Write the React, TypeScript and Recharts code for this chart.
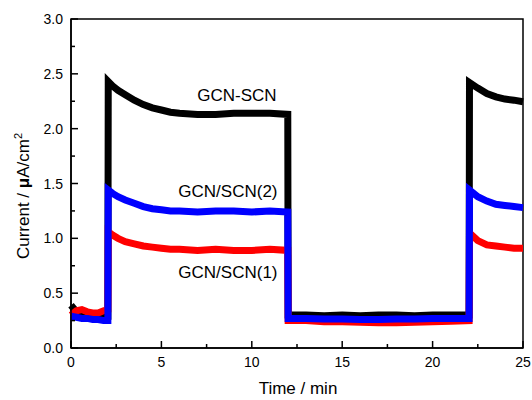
import React from 'react';
import { LineChart, Line, XAxis, YAxis, ReferenceArea, ReferenceDot } from 'recharts';

// time in minutes (shared by all three curves)
const times = [
  0, 0.3, 0.6, 0.9, 1.2, 1.5, 1.8, 2.04,
  2.06, 2.3, 2.6, 3, 3.5, 4, 4.5, 5, 5.5, 6,
  7, 8, 9, 10, 11, 11.99,
  12.01, 12.5, 13, 14, 15, 16, 17, 18, 19, 20, 21, 22.02,
  22.04, 22.5, 23, 23.5, 24, 24.5, 25,
];

const gcnScn = [
  0.39, 0.33, 0.3, 0.3, 0.29, 0.29, 0.29, 0.29,
  2.43, 2.39, 2.35, 2.31, 2.26, 2.22, 2.19, 2.17, 2.15, 2.14,
  2.13, 2.13, 2.14, 2.14, 2.14, 2.13,
  0.3, 0.3, 0.3, 0.295, 0.3, 0.295, 0.3, 0.3, 0.295, 0.3, 0.3, 0.3,
  2.42, 2.37, 2.32, 2.29, 2.27, 2.26, 2.245,
];

const gcnScn2 = [
  0.29, 0.28, 0.27, 0.27, 0.26, 0.26, 0.25, 0.25,
  1.44, 1.41, 1.38, 1.35, 1.32, 1.29, 1.27, 1.26, 1.25, 1.25,
  1.24, 1.25, 1.25, 1.24, 1.25, 1.24,
  0.27, 0.27, 0.27, 0.265, 0.265, 0.26, 0.26, 0.265, 0.265, 0.27, 0.27, 0.27,
  1.44, 1.38, 1.34, 1.31, 1.3, 1.29, 1.28,
];

const gcnScn1 = [
  0.3, 0.34, 0.35, 0.33, 0.32, 0.32, 0.34, 0.35,
  1.06, 1.03, 1.0, 0.97, 0.95, 0.93, 0.92, 0.91, 0.9, 0.9,
  0.89, 0.9, 0.89, 0.89, 0.9, 0.89,
  0.25, 0.25, 0.25, 0.24, 0.24, 0.235, 0.23, 0.23, 0.235, 0.24, 0.245, 0.25,
  1.05, 0.98, 0.94, 0.93, 0.92, 0.91, 0.91,
];

const xTicks = [0, 2.5, 5, 7.5, 10, 12.5, 15, 17.5, 20, 22.5, 25];
const yTicks = [0, 0.25, 0.5, 0.75, 1, 1.25, 1.5, 1.75, 2, 2.25, 2.5, 2.75, 3];

const data = times.map((t, i) => ({
  time: t,
  gcnScn: gcnScn[i],
  gcnScn2: gcnScn2[i],
  gcnScn1: gcnScn1[i],
}));

const FONT = '"Liberation Sans", Arial, sans-serif';

const XTick = ({ x, y, payload }: any) => {
  const major = payload.value % 5 === 0;
  return (
    <g>
      <line x1={x} x2={x} y1={y} y2={y - (major ? 7 : 4)} stroke="#000" strokeWidth={1.5} />
      {major && (
        <text x={x} y={y + 19} textAnchor="middle" fontSize={14} fontFamily={FONT} fill="#000">
          {payload.value}
        </text>
      )}
    </g>
  );
};

const YTick = ({ x, y, payload }: any) => {
  const major = Math.abs(payload.value * 2 - Math.round(payload.value * 2)) < 1e-6;
  return (
    <g>
      <line x1={x} x2={x + (major ? 7 : 4)} y1={y} y2={y} stroke="#000" strokeWidth={1.5} />
      {major && (
        <text x={x - 8} y={y + 5} textAnchor="end" fontSize={14} fontFamily={FONT} fill="#000">
          {payload.value.toFixed(1)}
        </text>
      )}
    </g>
  );
};

const YLabel = () => (
  <text
    x={29}
    y={196}
    transform="rotate(-90 29 196)"
    textAnchor="middle"
    fontSize={17}
    fontFamily={FONT}
    fill="#000"
  >
    Current / <tspan fontWeight="bold">μ</tspan>A/cm<tspan dy={-7} fontSize={11}>2</tspan>
  </text>
);

const XLabel = () => (
  <text x={298} y={394} textAnchor="middle" fontSize={17} fontFamily={FONT} fill="#000">
    Time / min
  </text>
);

const note = (value: string) => ({
  value,
  position: 'center' as const,
  fontSize: 17,
  fontFamily: FONT,
  fill: '#000',
});

const App = () => {
  return (
    <div style={{ position: 'absolute', left: 0, top: 0, background: '#fff' }}>
      <LineChart width={532} height={400} data={data} margin={{ top: 19, right: 9, left: 0, bottom: 0 }}>
        <XAxis
          dataKey="time"
          type="number"
          domain={[0, 25]}
          ticks={xTicks}
          interval={0}
          height={52}
          tickSize={0}
          tickMargin={0}
          tick={<XTick />}
          axisLine={{ stroke: '#000', strokeWidth: 1.5 }}
          label={<XLabel />}
        />
        <YAxis
          type="number"
          domain={[0, 3]}
          ticks={yTicks}
          interval={0}
          width={71}
          tickSize={0}
          tickMargin={0}
          tick={<YTick />}
          axisLine={{ stroke: '#000', strokeWidth: 1.5 }}
          label={<YLabel />}
        />
        <Line
          dataKey="gcnScn"
          stroke="#000000"
          strokeWidth={7}
          dot={false}
          isAnimationActive={false}
        />
        <Line
          dataKey="gcnScn1"
          stroke="#ff0000"
          strokeWidth={7}
          dot={false}
          isAnimationActive={false}
        />
        <Line
          dataKey="gcnScn2"
          stroke="#0000ff"
          strokeWidth={7}
          dot={false}
          isAnimationActive={false}
        />
        <ReferenceArea x1={0} x2={25} y1={0} y2={3} fill="none" stroke="#000" strokeWidth={1.5} />
        <ReferenceDot x={9.18} y={2.31} r={0} label={note('GCN-SCN')} />
        <ReferenceDot x={8.68} y={1.43} r={0} label={note('GCN/SCN(2)')} />
        <ReferenceDot x={8.68} y={0.69} r={0} label={note('GCN/SCN(1)')} />
      </LineChart>
    </div>
  );
};

export default App;
